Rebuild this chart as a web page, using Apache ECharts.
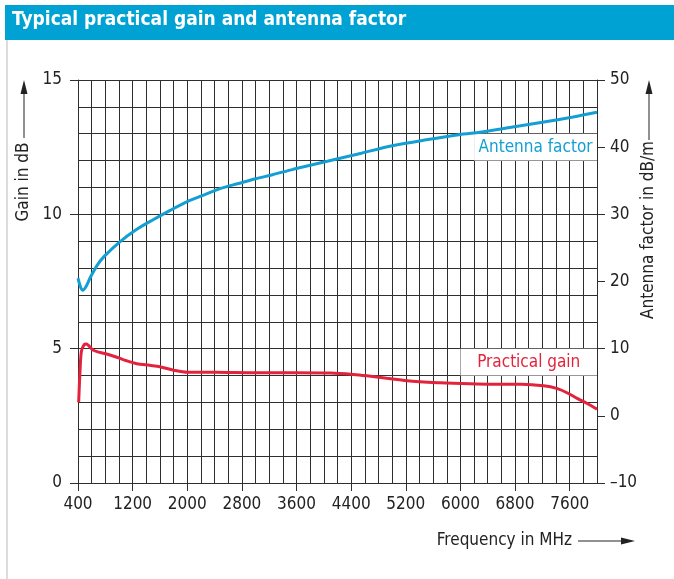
<!DOCTYPE html>
<html>
<head>
<meta charset="utf-8">
<script src="https://cdn.jsdelivr.net/npm/echarts@6.0.0/dist/echarts.min.js"></script>
<style>
    html, body { margin: 0; padding: 0; background: #fff; }
    #chart { width: 674px; height: 579px; }
</style>
</head>
<body>
<div id="chart"></div>
<script>
// frequency in MHz
var freqLabels = [400, 1200, 2000, 2800, 3600, 4400, 5200, 6000, 6800, 7600];
var gainLabels = [0, 5, 10, 15];

// antenna factor, dB/m (right axis)
var afFreq = [400, 440, 470, 520, 580, 680, 780, 1000, 1250, 1500, 1750, 2000, 2250, 2500, 2750, 3000, 3250, 3550, 4050, 4550, 5000, 5500, 6000, 6200, 6700, 7200, 7650, 8000];
var afValue = [20.5, 19.1, 18.7, 19.3, 20.6, 22.4, 23.7, 25.8, 27.7, 29.2, 30.6, 31.9, 32.9, 33.9, 34.6, 35.3, 35.9, 36.7, 37.9, 39.1, 40.2, 41.1, 41.9, 42.1, 42.9, 43.7, 44.5, 45.2];

// practical gain, dB (left axis)
var gainFreq = [410, 430, 450, 490, 520, 620, 720, 820, 970, 1110, 1260, 1450, 1600, 1800, 2000, 2400, 3000, 3600, 4100, 4430, 4630, 4920, 5220, 5700, 5900, 6400, 6900, 7220, 7410, 7560, 7710, 7850, 8000];
var gainValue = [3.0, 4.2, 4.9, 5.15, 5.17, 4.95, 4.86, 4.8, 4.68, 4.55, 4.44, 4.38, 4.33, 4.2, 4.12, 4.12, 4.1, 4.1, 4.09, 4.04, 3.99, 3.9, 3.81, 3.73, 3.71, 3.68, 3.68, 3.62, 3.52, 3.36, 3.15, 2.97, 2.75];

var font = "'DejaVu Sans Condensed', 'Liberation Sans', sans-serif";
var gridColor = '#2e2e2e';
var textColor = '#222';
var blue = '#139fd4';
var red = '#e3223c';

function pairs(xs, ys) {
    return xs.map(function (x, i) { return [x, ys[i]]; });
}

var chart = echarts.init(document.getElementById('chart'));
var option = {
    animation: false,
    backgroundColor: '#fff',
    textStyle: { fontFamily: font },
    title: {
        text: 'Typical practical gain and antenna factor',
        left: 12,
        top: 11,
        padding: 0,
        textStyle: { color: '#fff', fontSize: 19, fontWeight: 'bold', fontFamily: font }
    },
    graphic: [
        { type: 'rect', left: 5, top: 5, z: -10, shape: { width: 669, height: 35 }, style: { fill: '#00a1d3' } },
        { type: 'line', shape: { x1: 7, y1: 40, x2: 7, y2: 579 }, style: { stroke: '#d0d0d0', lineWidth: 1.5 } },
        // left axis name + arrow
        { type: 'text', x: 24, y: 182, rotation: Math.PI / 2,
          style: { text: 'Gain in dB', fontSize: 17, fontFamily: font, fill: textColor, align: 'center', verticalAlign: 'middle' } },
        { type: 'line', shape: { x1: 24, y1: 138, x2: 24, y2: 92 }, style: { stroke: textColor, lineWidth: 1 } },
        { type: 'polygon', shape: { points: [[24, 80], [20.5, 94], [27.5, 94]] }, style: { fill: textColor } },
        // right axis name + arrow
        { type: 'text', x: 649, y: 230, rotation: Math.PI / 2,
          style: { text: 'Antenna factor in dB/m', fontSize: 17, fontFamily: font, fill: textColor, align: 'center', verticalAlign: 'middle' } },
        { type: 'line', shape: { x1: 649, y1: 140, x2: 649, y2: 92 }, style: { stroke: textColor, lineWidth: 1 } },
        { type: 'polygon', shape: { points: [[649, 80], [645.5, 94], [652.5, 94]] }, style: { fill: textColor } },
        // x axis name + arrow
        { type: 'text', x: 572, y: 541,
          style: { text: 'Frequency in MHz', fontSize: 17, fontFamily: font, fill: textColor, align: 'right', verticalAlign: 'middle' } },
        { type: 'line', shape: { x1: 578, y1: 541, x2: 622, y2: 541 }, style: { stroke: textColor, lineWidth: 1 } },
        { type: 'polygon', shape: { points: [[635, 541], [621, 537.5], [621, 544.5]] }, style: { fill: textColor } }
    ],
    grid: { left: 78, right: 77, top: 80, bottom: 96 },
    xAxis: [{
        // grid lines every 200 MHz
        type: 'value',
        min: 400,
        max: 8000,
        interval: 200,
        position: 'bottom',
        axisLine: { lineStyle: { color: gridColor } },
        axisTick: { show: false },
        axisLabel: { show: false },
        splitLine: { show: true, lineStyle: { color: gridColor, width: 1 } }
    }, {
        // labelled ticks
        type: 'value',
        min: 400,
        max: 8000,
        position: 'bottom',
        axisLine: { show: false },
        axisTick: { show: true, length: 8, customValues: freqLabels, lineStyle: { color: gridColor } },
        axisLabel: {
            customValues: freqLabels, margin: 13, fontSize: 17, color: textColor, fontFamily: font,
            formatter: function (v) { return String(v); }
        },
        splitLine: { show: false }
    }],
    yAxis: [{
        // grid lines every 1 dB
        type: 'value',
        min: 0,
        max: 15,
        interval: 1,
        position: 'left',
        axisLine: { show: true, lineStyle: { color: gridColor } },
        axisTick: { show: false },
        axisLabel: { show: false },
        splitLine: { show: true, lineStyle: { color: gridColor, width: 1 } }
    }, {
        type: 'value',
        min: 0,
        max: 15,
        position: 'left',
        axisLine: { show: false },
        axisTick: { show: true, length: 8, customValues: gainLabels, lineStyle: { color: gridColor } },
        axisLabel: { customValues: gainLabels, margin: 16, fontSize: 17, color: textColor, fontFamily: font },
        splitLine: { show: false }
    }, {
        type: 'value',
        min: -10,
        max: 50,
        interval: 10,
        position: 'right',
        axisLine: { show: true, lineStyle: { color: gridColor } },
        axisTick: { show: true, length: 8, lineStyle: { color: gridColor } },
        axisLabel: {
            margin: 13, fontSize: 17, color: textColor, fontFamily: font,
            formatter: function (v) { return v < 0 ? '\u2013' + Math.abs(v) : String(v); }
        },
        splitLine: { show: false }
    }],
    series: [{
        name: 'Antenna factor',
        type: 'line',
        xAxisIndex: 0,
        yAxisIndex: 2,
        smooth: 0.3,
        showSymbol: false,
        lineStyle: { color: blue, width: 3 },
        data: pairs(afFreq, afValue),
        markArea: {
            silent: true,
            itemStyle: { color: '#fff', opacity: 1 },
            label: { show: true, position: 'inside', color: blue, fontSize: 17, fontFamily: font },
            data: [[{ name: 'Antenna factor', xAxis: 6200, yAxis: 38 }, { xAxis: 8000, yAxis: 42 }]]
        }
    }, {
        name: 'Practical gain',
        type: 'line',
        xAxisIndex: 0,
        yAxisIndex: 0,
        smooth: 0.3,
        showSymbol: false,
        lineStyle: { color: red, width: 3 },
        data: pairs(gainFreq, gainValue),
        markArea: {
            silent: true,
            itemStyle: { color: '#fff', opacity: 1 },
            label: { show: true, position: 'inside', color: red, fontSize: 17, fontFamily: font },
            data: [[{ name: 'Practical gain', xAxis: 6000, yAxis: 4 }, { xAxis: 8000, yAxis: 5 }]]
        }
    }]
};
chart.setOption(option);
</script>
</body>
</html>
